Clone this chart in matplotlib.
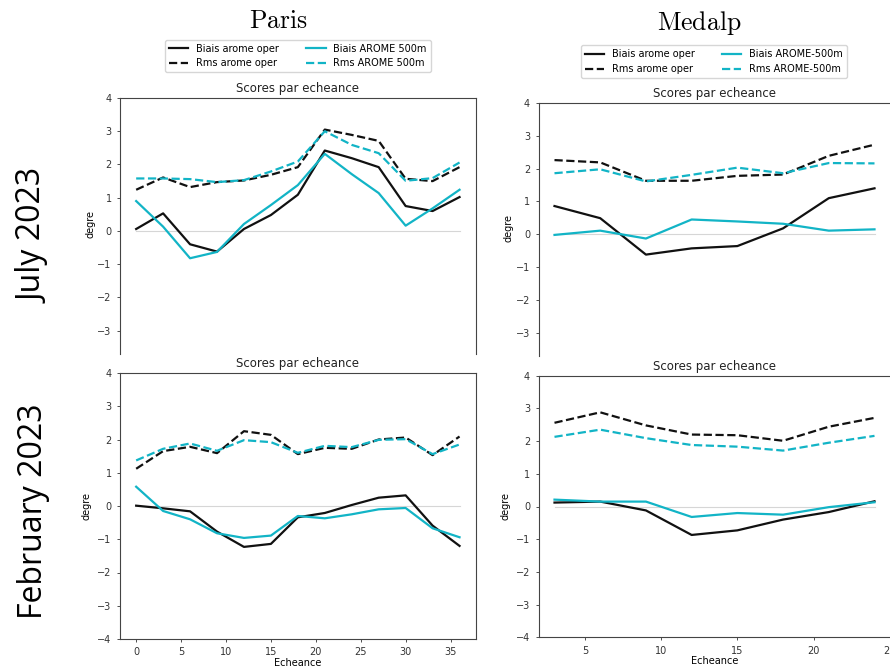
import numpy as np
from matplotlib import pyplot as plt
from matplotlib.lines import Line2D

# echeances
ech_paris = [0, 3, 6, 9, 12, 15, 18, 21, 24, 27, 30, 33, 36]
ech_medalp = [3, 6, 9, 12, 15, 18, 21, 24]

# July 2023 - Paris
jul_paris_biais_oper = [0.06, 0.53, -0.40, -0.62, 0.06, 0.48, 1.09, 2.42, 2.19, 1.92, 0.75, 0.60, 1.02]
jul_paris_biais_500 = [0.90, 0.13, -0.82, -0.63, 0.21, 0.78, 1.38, 2.32, 1.71, 1.14, 0.16, 0.68, 1.24]
jul_paris_rms_oper = [1.24, 1.61, 1.32, 1.47, 1.52, 1.69, 1.92, 3.05, 2.89, 2.71, 1.57, 1.50, 1.92]
jul_paris_rms_500 = [1.58, 1.58, 1.56, 1.47, 1.53, 1.79, 2.09, 3.00, 2.59, 2.34, 1.51, 1.59, 2.06]

# July 2023 - Medalp
jul_medalp_biais_oper = [0.86, 0.49, -0.62, -0.43, -0.36, 0.18, 1.10, 1.40]
jul_medalp_biais_500 = [-0.02, 0.11, -0.13, 0.45, 0.39, 0.32, 0.11, 0.15]
jul_medalp_rms_oper = [2.26, 2.19, 1.63, 1.63, 1.78, 1.82, 2.39, 2.73]
jul_medalp_rms_500 = [1.86, 1.98, 1.61, 1.81, 2.03, 1.86, 2.17, 2.16]

# February 2023 - Paris
feb_paris_biais_oper = [0.01, -0.07, -0.16, -0.77, -1.23, -1.14, -0.34, -0.21, 0.03, 0.25, 0.32, -0.59, -1.20]
feb_paris_biais_500 = [0.58, -0.15, -0.40, -0.82, -0.96, -0.89, -0.30, -0.37, -0.25, -0.10, -0.06, -0.67, -0.94]
feb_paris_rms_oper = [1.12, 1.65, 1.78, 1.59, 2.25, 2.14, 1.56, 1.75, 1.72, 2.00, 2.06, 1.53, 2.09]
feb_paris_rms_500 = [1.37, 1.72, 1.88, 1.66, 1.98, 1.92, 1.60, 1.81, 1.77, 1.99, 2.01, 1.56, 1.85]

# February 2023 - Medalp
feb_medalp_biais_oper = [0.12, 0.15, -0.12, -0.87, -0.73, -0.40, -0.17, 0.16]
feb_medalp_biais_500 = [0.21, 0.15, 0.15, -0.32, -0.20, -0.25, -0.02, 0.13]
feb_medalp_rms_oper = [2.56, 2.88, 2.48, 2.20, 2.18, 2.01, 2.44, 2.71]
feb_medalp_rms_500 = [2.13, 2.35, 2.09, 1.88, 1.83, 1.71, 1.95, 2.16]

BLACK = '#111111'
CYAN = '#12b4c6'
LW = 1.6
W, H = 890, 667


def box(l, t, r, b):
    # pixel box -> figure fraction
    return [l / W, 1 - b / H, (r - l) / W, (b - t) / H]


def draw_panel(fig, rect, x, biais_oper, biais_500, rms_oper, rms_500, xlim, ylim, cropped):
    ax = fig.add_axes(box(*rect))
    ax.plot(x, np.zeros(len(x)), color='#d6d6d6', lw=0.8)
    ax.plot(x, biais_oper, color=BLACK, lw=LW)
    ax.plot(x, rms_oper, color=BLACK, lw=LW, ls='--')
    ax.plot(x, biais_500, color=CYAN, lw=LW)
    ax.plot(x, rms_500, color=CYAN, lw=LW, ls='--')
    ax.set_xlim(xlim)
    ax.set_ylim(ylim)
    ax.set_title('Scores par echeance', fontsize=8.5, pad=4, color='#222222')
    ax.set_ylabel('degre', fontsize=7)
    ax.tick_params(labelsize=7, length=2.5, width=0.6, colors='#333333')
    for s in ax.spines.values():
        s.set_linewidth(0.8)
        s.set_color('#444444')
    if cropped:
        ax.spines['bottom'].set_visible(False)
        ax.set_xticks([])
        ax.set_yticks(range(-3, 5))
        ax.yaxis.set_label_coords(-0.07, (0.2 - ylim[0]) / (ylim[1] - ylim[0]))
    else:
        ax.set_yticks(range(-4, 5))
        ax.set_xlabel('Echeance', fontsize=7, labelpad=0.5)
    return ax


def add_legend(fig, center, lab500):
    handles = [Line2D([], [], color=BLACK, lw=LW),
               Line2D([], [], color=BLACK, lw=LW, ls='--'),
               Line2D([], [], color=CYAN, lw=LW),
               Line2D([], [], color=CYAN, lw=LW, ls='--')]
    labels = ['Biais arome oper', 'Rms arome oper', 'Biais ' + lab500, 'Rms ' + lab500]
    fig.legend(handles, labels, ncol=2, fontsize=7, loc='center',
               bbox_to_anchor=center, frameon=True, columnspacing=2.8)


fig = plt.figure(figsize=(W / 100, H / 100), dpi=100)

draw_panel(fig, (120, 98, 475.7, 354), ech_paris, jul_paris_biais_oper, jul_paris_biais_500,
           jul_paris_rms_oper, jul_paris_rms_500, (-1.8, 37.8), (-3.7, 4), True)
draw_panel(fig, (538.5, 103, 890.5, 356), ech_medalp, jul_medalp_biais_oper, jul_medalp_biais_500,
           jul_medalp_rms_oper, jul_medalp_rms_500, (1.95, 25.05), (-3.71, 4), True)
draw_panel(fig, (120, 373, 475.7, 639), ech_paris, feb_paris_biais_oper, feb_paris_biais_500,
           feb_paris_rms_oper, feb_paris_rms_500, (-1.8, 37.8), (-4, 4), False)
draw_panel(fig, (538.5, 375.7, 890.5, 637.3), ech_medalp, feb_medalp_biais_oper, feb_medalp_biais_500,
           feb_medalp_rms_oper, feb_medalp_rms_500, (1.95, 25.05), (-4, 4), False)

add_legend(fig, (297.7 / W, 1 - 56 / H), 'AROME 500m')
add_legend(fig, (713.8 / W, 1 - 61.5 / H), 'AROME-500m')

# column titles (computer modern look)
plt.rcParams['mathtext.fontset'] = 'cm'
fig.text(278.5 / W, 1 - 28 / H, r'$\mathrm{Paris}$', fontsize=18.5, ha='center', va='baseline')
fig.text(699 / W, 1 - 30 / H, r'$\mathrm{Medalp}$', fontsize=18.5, ha='center', va='baseline')

# row titles
fig.text(34 / W, 1 - 236 / H, 'July 2023', family='Open Sans', fontsize=23,
         rotation=90, ha='center', va='center')
fig.text(34 / W, 1 - 511 / H, 'February 2023', family='Open Sans', fontsize=23,
         rotation=90, ha='center', va='center')

fig.savefig('out.png', dpi=100)
